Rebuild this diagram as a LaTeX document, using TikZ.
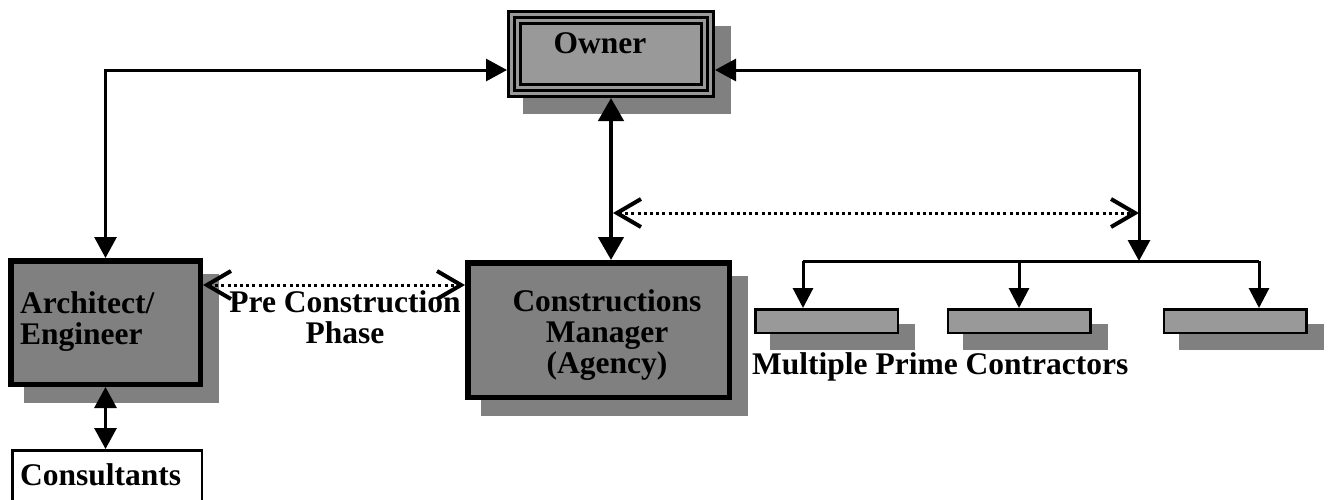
\documentclass[tikz,border=0pt]{standalone}
\usepackage{fontspec}
\setmainfont{Liberation Serif}
\usetikzlibrary{arrows.meta,backgrounds}

\definecolor{darkfill}{RGB}{128,128,128}
\definecolor{lightfill}{RGB}{153,153,153}
\definecolor{shadowfill}{RGB}{128,128,128}

\tikzset{
  bigtip/.tip={Triangle[length=21pt,width=22pt]},
  smalltip/.tip={Triangle[length=20pt,width=20pt]},
  heavytip/.tip={Triangle[length=23pt,width=25pt]},
  barbtip/.tip={Straight Barb[length=24pt,width=28pt,line width=4pt]},
  lbl/.style={font=\fontsize{31.5pt}{31pt}\selectfont\bfseries, inner sep=0pt},
  darkbox/.style={draw=black, line width=5.5pt, fill=darkfill, inner sep=0pt},
  primebox/.style={draw=black, line width=2.5pt, fill=lightfill, inner sep=0pt,
    minimum width=142.5pt, minimum height=23.5pt},
  ownerbox/.style={draw=black, line width=3.5pt, inner sep=0pt, outer sep=7.5pt,
    minimum width=193pt, minimum height=73pt,
    preaction={fill=lightfill},
    preaction={draw=black, double=lightfill, double distance=9pt, line width=3pt}},
  twoway/.style={line width=3pt, bigtip-bigtip},
  oneway/.style={line width=3pt, -smalltip},
  heavy/.style={line width=4.5pt, heavytip-heavytip},
  dots/.style={line width=3pt, dash pattern=on 3pt off 3.2pt, barbtip-barbtip}
}

\begin{document}
\begin{tikzpicture}[x=1pt,y=-1pt]
  \path[use as bounding box, clip] (0,0) rectangle (1329,499);

  \node[ownerbox] (owner) at (611,54) {};
  \node[darkbox, minimum width=189.5pt, minimum height=123.5pt] (ae) at (105.5,322.5) {};
  \node[darkbox, minimum width=261.5pt, minimum height=134.5pt] (cm) at (598.5,330) {};
  \node[draw=black, line width=2.5pt, fill=white, inner sep=0pt,
    minimum width=189.5pt, minimum height=68.5pt] (cons) at (107,484.5) {};
  \node[primebox] (c1) at (826.5,321) {};
  \node[primebox] (c2) at (1019,321) {};
  \node[primebox] (c3) at (1235,321) {};

  \begin{scope}[on background layer]
    \foreach \b in {owner,ae,cm,c1,c2,c3}
      \fill[shadowfill] ([shift={(16pt,-16pt)}]\b.south west) rectangle ([shift={(16pt,-16pt)}]\b.north east);
  \end{scope}

  \coordinate (bus) at (1139,261);
  \coordinate (cmtap) at (613,213);

  \draw[twoway] (ae.north) |- ([yshift=-16pt]owner.west);
  \draw[twoway] ([yshift=-16pt]owner.east) -| (bus);
  \draw[heavy] (owner.south) -- (owner.south |- cm.north);
  \draw[dots] (cmtap) -- (cmtap -| bus);
  \draw[dots] ([yshift=37.5pt]ae.east) -- ([yshift=37.5pt]ae.east -| cm.west);
  \draw[twoway] (ae.south) -- (ae.south |- cons.north);

  \draw[line width=3pt] ([xshift=-23.5pt]c1.north |- bus) -- ([xshift=24pt]c3.north |- bus);
  \draw[oneway] ([xshift=-23.5pt]c1.north |- bus) -- ([xshift=-23.5pt]c1.north);
  \draw[oneway] (c2.north |- bus) -- (c2.north);
  \draw[oneway] ([xshift=24pt]c3.north |- bus) -- ([xshift=24pt]c3.north);

  \node[lbl, anchor=base] (ownertxt) at (600,53) {Owner};
  \node[lbl, anchor=base west, align=left] (aetxt) at (20,344) {Architect/\\Engineer};
  \node[lbl, anchor=base, align=center] (phasetxt) at (345,343) {Pre Construction\\Phase};
  \node[lbl, anchor=base, align=center] (cmtxt) at (607,373) {Constructions\\Manager\\(Agency)};
  \node[lbl, anchor=base west] (constxt) at (20,485) {Consultants};
  \node[lbl, anchor=base west] (primetxt) at (752,374) {Multiple Prime Contractors};
\end{tikzpicture}
\end{document}
